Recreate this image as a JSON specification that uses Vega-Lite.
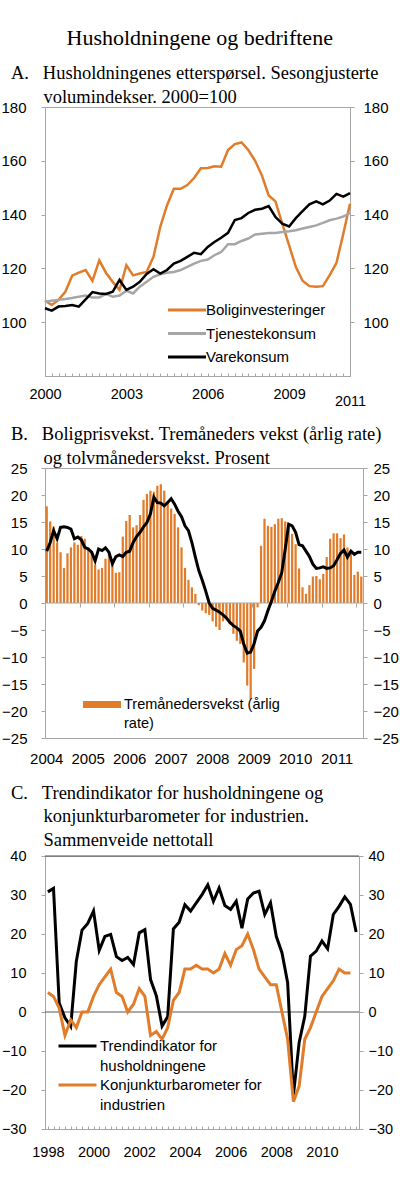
{
  "$schema": "https://vega.github.io/schema/vega-lite/v6.json",
  "padding": {"left": 0, "top": 26, "right": 0, "bottom": 20},
  "background": "white",
  "title": {"text": "Husholdningene og bedriftene", "font": "Liberation Serif", "fontSize": 22, "fontWeight": "normal", "color": "black", "anchor": "middle", "offset": 14},
  "columns": 1,
  "spacing": 16,
  "resolve": {"scale": {"color": "independent"}, "legend": {"color": "independent"}},
  "datasets": {
    "a": [
      {"d":"2000-01-01","s":"Boliginvesteringer","v":108},{"d":"2000-04-01","s":"Boliginvesteringer","v":106.4},{"d":"2000-07-01","s":"Boliginvesteringer","v":108.3},{"d":"2000-10-01","s":"Boliginvesteringer","v":111.3},
      {"d":"2001-01-01","s":"Boliginvesteringer","v":117.3},{"d":"2001-04-01","s":"Boliginvesteringer","v":118.4},{"d":"2001-07-01","s":"Boliginvesteringer","v":119.4},{"d":"2001-10-01","s":"Boliginvesteringer","v":115.4},
      {"d":"2002-01-01","s":"Boliginvesteringer","v":123},{"d":"2002-04-01","s":"Boliginvesteringer","v":118.4},{"d":"2002-07-01","s":"Boliginvesteringer","v":115},{"d":"2002-10-01","s":"Boliginvesteringer","v":112},
      {"d":"2003-01-01","s":"Boliginvesteringer","v":121.2},{"d":"2003-04-01","s":"Boliginvesteringer","v":117.4},{"d":"2003-07-01","s":"Boliginvesteringer","v":118.1},{"d":"2003-10-01","s":"Boliginvesteringer","v":118.7},
      {"d":"2004-01-01","s":"Boliginvesteringer","v":124.3},{"d":"2004-04-01","s":"Boliginvesteringer","v":135.4},{"d":"2004-07-01","s":"Boliginvesteringer","v":143.4},{"d":"2004-10-01","s":"Boliginvesteringer","v":149.6},
      {"d":"2005-01-01","s":"Boliginvesteringer","v":149.6},{"d":"2005-04-01","s":"Boliginvesteringer","v":151},{"d":"2005-07-01","s":"Boliginvesteringer","v":153.6},{"d":"2005-10-01","s":"Boliginvesteringer","v":157.2},
      {"d":"2006-01-01","s":"Boliginvesteringer","v":157.3},{"d":"2006-04-01","s":"Boliginvesteringer","v":158},{"d":"2006-07-01","s":"Boliginvesteringer","v":157.8},{"d":"2006-10-01","s":"Boliginvesteringer","v":164},
      {"d":"2007-01-01","s":"Boliginvesteringer","v":166.2},{"d":"2007-04-01","s":"Boliginvesteringer","v":166.8},{"d":"2007-07-01","s":"Boliginvesteringer","v":164},{"d":"2007-10-01","s":"Boliginvesteringer","v":160},
      {"d":"2008-01-01","s":"Boliginvesteringer","v":154.5},{"d":"2008-04-01","s":"Boliginvesteringer","v":147.1},{"d":"2008-07-01","s":"Boliginvesteringer","v":144.9},{"d":"2008-10-01","s":"Boliginvesteringer","v":136.6},
      {"d":"2009-01-01","s":"Boliginvesteringer","v":128.6},{"d":"2009-04-01","s":"Boliginvesteringer","v":120.6},{"d":"2009-07-01","s":"Boliginvesteringer","v":115.4},{"d":"2009-10-01","s":"Boliginvesteringer","v":113.4},
      {"d":"2010-01-01","s":"Boliginvesteringer","v":113.2},{"d":"2010-04-01","s":"Boliginvesteringer","v":113.4},{"d":"2010-07-01","s":"Boliginvesteringer","v":117.5},{"d":"2010-10-01","s":"Boliginvesteringer","v":122.1},
      {"d":"2011-01-01","s":"Boliginvesteringer","v":132.9},{"d":"2011-04-01","s":"Boliginvesteringer","v":144},
      {"d":"2000-01-01","s":"Tjenestekonsum","v":107.6},{"d":"2000-04-01","s":"Tjenestekonsum","v":108},{"d":"2000-07-01","s":"Tjenestekonsum","v":108.3},{"d":"2000-10-01","s":"Tjenestekonsum","v":108.6},
      {"d":"2001-01-01","s":"Tjenestekonsum","v":109},{"d":"2001-04-01","s":"Tjenestekonsum","v":109.5},{"d":"2001-07-01","s":"Tjenestekonsum","v":109.9},{"d":"2001-10-01","s":"Tjenestekonsum","v":109.2},
      {"d":"2002-01-01","s":"Tjenestekonsum","v":109.2},{"d":"2002-04-01","s":"Tjenestekonsum","v":110.5},{"d":"2002-07-01","s":"Tjenestekonsum","v":109.5},{"d":"2002-10-01","s":"Tjenestekonsum","v":109.9},
      {"d":"2003-01-01","s":"Tjenestekonsum","v":111.7},{"d":"2003-04-01","s":"Tjenestekonsum","v":110.7},{"d":"2003-07-01","s":"Tjenestekonsum","v":113.2},{"d":"2003-10-01","s":"Tjenestekonsum","v":115},
      {"d":"2004-01-01","s":"Tjenestekonsum","v":116.9},{"d":"2004-04-01","s":"Tjenestekonsum","v":117.8},{"d":"2004-07-01","s":"Tjenestekonsum","v":118.4},{"d":"2004-10-01","s":"Tjenestekonsum","v":118.7},
      {"d":"2005-01-01","s":"Tjenestekonsum","v":119.4},{"d":"2005-04-01","s":"Tjenestekonsum","v":120.6},{"d":"2005-07-01","s":"Tjenestekonsum","v":121.8},{"d":"2005-10-01","s":"Tjenestekonsum","v":122.8},
      {"d":"2006-01-01","s":"Tjenestekonsum","v":123.3},{"d":"2006-04-01","s":"Tjenestekonsum","v":124.9},{"d":"2006-07-01","s":"Tjenestekonsum","v":126.1},{"d":"2006-10-01","s":"Tjenestekonsum","v":129},
      {"d":"2007-01-01","s":"Tjenestekonsum","v":129},{"d":"2007-04-01","s":"Tjenestekonsum","v":130.2},{"d":"2007-07-01","s":"Tjenestekonsum","v":131.1},{"d":"2007-10-01","s":"Tjenestekonsum","v":132.6},
      {"d":"2008-01-01","s":"Tjenestekonsum","v":132.9},{"d":"2008-04-01","s":"Tjenestekonsum","v":133.2},{"d":"2008-07-01","s":"Tjenestekonsum","v":133.2},{"d":"2008-10-01","s":"Tjenestekonsum","v":133.5},
      {"d":"2009-01-01","s":"Tjenestekonsum","v":133.8},{"d":"2009-04-01","s":"Tjenestekonsum","v":134.2},{"d":"2009-07-01","s":"Tjenestekonsum","v":134.8},{"d":"2009-10-01","s":"Tjenestekonsum","v":135.4},
      {"d":"2010-01-01","s":"Tjenestekonsum","v":136},{"d":"2010-04-01","s":"Tjenestekonsum","v":136.9},{"d":"2010-07-01","s":"Tjenestekonsum","v":137.9},{"d":"2010-10-01","s":"Tjenestekonsum","v":138.5},
      {"d":"2011-01-01","s":"Tjenestekonsum","v":139.3},{"d":"2011-04-01","s":"Tjenestekonsum","v":140.6},
      {"d":"2000-01-01","s":"Varekonsum","v":105.2},{"d":"2000-04-01","s":"Varekonsum","v":104.3},{"d":"2000-07-01","s":"Varekonsum","v":105.8},{"d":"2000-10-01","s":"Varekonsum","v":106},
      {"d":"2001-01-01","s":"Varekonsum","v":106.4},{"d":"2001-04-01","s":"Varekonsum","v":105.8},{"d":"2001-07-01","s":"Varekonsum","v":108.5},{"d":"2001-10-01","s":"Varekonsum","v":111.2},
      {"d":"2002-01-01","s":"Varekonsum","v":110.7},{"d":"2002-04-01","s":"Varekonsum","v":110.5},{"d":"2002-07-01","s":"Varekonsum","v":111.3},{"d":"2002-10-01","s":"Varekonsum","v":115.7},
      {"d":"2003-01-01","s":"Varekonsum","v":112},{"d":"2003-04-01","s":"Varekonsum","v":113.2},{"d":"2003-07-01","s":"Varekonsum","v":115},{"d":"2003-10-01","s":"Varekonsum","v":117.9},
      {"d":"2004-01-01","s":"Varekonsum","v":119.7},{"d":"2004-04-01","s":"Varekonsum","v":118.1},{"d":"2004-07-01","s":"Varekonsum","v":119.4},{"d":"2004-10-01","s":"Varekonsum","v":121.8},
      {"d":"2005-01-01","s":"Varekonsum","v":122.8},{"d":"2005-04-01","s":"Varekonsum","v":124.3},{"d":"2005-07-01","s":"Varekonsum","v":125.8},{"d":"2005-10-01","s":"Varekonsum","v":125.3},
      {"d":"2006-01-01","s":"Varekonsum","v":128},{"d":"2006-04-01","s":"Varekonsum","v":129.8},{"d":"2006-07-01","s":"Varekonsum","v":131.4},{"d":"2006-10-01","s":"Varekonsum","v":133.2},
      {"d":"2007-01-01","s":"Varekonsum","v":138},{"d":"2007-04-01","s":"Varekonsum","v":138.7},{"d":"2007-07-01","s":"Varekonsum","v":140.6},{"d":"2007-10-01","s":"Varekonsum","v":141.8},
      {"d":"2008-01-01","s":"Varekonsum","v":142.2},{"d":"2008-04-01","s":"Varekonsum","v":143.2},{"d":"2008-07-01","s":"Varekonsum","v":139.1},{"d":"2008-10-01","s":"Varekonsum","v":136.6},
      {"d":"2009-01-01","s":"Varekonsum","v":135.6},{"d":"2009-04-01","s":"Varekonsum","v":138.7},{"d":"2009-07-01","s":"Varekonsum","v":141.3},{"d":"2009-10-01","s":"Varekonsum","v":143.8},
      {"d":"2010-01-01","s":"Varekonsum","v":144.9},{"d":"2010-04-01","s":"Varekonsum","v":143.8},{"d":"2010-07-01","s":"Varekonsum","v":145.2},{"d":"2010-10-01","s":"Varekonsum","v":147.7},
      {"d":"2011-01-01","s":"Varekonsum","v":146.7},{"d":"2011-04-01","s":"Varekonsum","v":148}
    ],
    "b": [
      {"m":"2004-01","s":"Tremånedersvekst (årlig rate)","v":17.9},{"m":"2004-02","s":"Tremånedersvekst (årlig rate)","v":15.1},{"m":"2004-03","s":"Tremånedersvekst (årlig rate)","v":14.2},{"m":"2004-04","s":"Tremånedersvekst (årlig rate)","v":11.2},{"m":"2004-05","s":"Tremånedersvekst (årlig rate)","v":9.4},{"m":"2004-06","s":"Tremånedersvekst (årlig rate)","v":6.5},
      {"m":"2004-07","s":"Tremånedersvekst (årlig rate)","v":9.2},{"m":"2004-08","s":"Tremånedersvekst (årlig rate)","v":10.3},{"m":"2004-09","s":"Tremånedersvekst (årlig rate)","v":11.2},{"m":"2004-10","s":"Tremånedersvekst (årlig rate)","v":10.8},{"m":"2004-11","s":"Tremånedersvekst (årlig rate)","v":12.4},{"m":"2004-12","s":"Tremånedersvekst (årlig rate)","v":11.9},
      {"m":"2005-01","s":"Tremånedersvekst (årlig rate)","v":10.3},{"m":"2005-02","s":"Tremånedersvekst (årlig rate)","v":9.4},{"m":"2005-03","s":"Tremånedersvekst (årlig rate)","v":7.1},{"m":"2005-04","s":"Tremånedersvekst (årlig rate)","v":6.2},{"m":"2005-05","s":"Tremånedersvekst (årlig rate)","v":6.5},{"m":"2005-06","s":"Tremånedersvekst (årlig rate)","v":8.2},
      {"m":"2005-07","s":"Tremånedersvekst (årlig rate)","v":9.0},{"m":"2005-08","s":"Tremånedersvekst (årlig rate)","v":7.3},{"m":"2005-09","s":"Tremånedersvekst (årlig rate)","v":5.6},{"m":"2005-10","s":"Tremånedersvekst (årlig rate)","v":5.7},{"m":"2005-11","s":"Tremånedersvekst (årlig rate)","v":12.3},{"m":"2005-12","s":"Tremånedersvekst (årlig rate)","v":15.2},
      {"m":"2006-01","s":"Tremånedersvekst (årlig rate)","v":16.3},{"m":"2006-02","s":"Tremånedersvekst (årlig rate)","v":14.0},{"m":"2006-03","s":"Tremånedersvekst (årlig rate)","v":14.4},{"m":"2006-04","s":"Tremånedersvekst (årlig rate)","v":16.3},{"m":"2006-05","s":"Tremånedersvekst (årlig rate)","v":19.1},{"m":"2006-06","s":"Tremånedersvekst (årlig rate)","v":20.2},
      {"m":"2006-07","s":"Tremånedersvekst (årlig rate)","v":20.8},{"m":"2006-08","s":"Tremånedersvekst (årlig rate)","v":20.6},{"m":"2006-09","s":"Tremånedersvekst (årlig rate)","v":21.7},{"m":"2006-10","s":"Tremånedersvekst (årlig rate)","v":22.0},{"m":"2006-11","s":"Tremånedersvekst (årlig rate)","v":20.8},{"m":"2006-12","s":"Tremånedersvekst (årlig rate)","v":18.8},
      {"m":"2007-01","s":"Tremånedersvekst (årlig rate)","v":17.5},{"m":"2007-02","s":"Tremånedersvekst (årlig rate)","v":16.5},{"m":"2007-03","s":"Tremånedersvekst (årlig rate)","v":14.0},{"m":"2007-04","s":"Tremånedersvekst (årlig rate)","v":10.3},{"m":"2007-05","s":"Tremånedersvekst (årlig rate)","v":6.5},{"m":"2007-06","s":"Tremånedersvekst (årlig rate)","v":4.3},
      {"m":"2007-07","s":"Tremånedersvekst (årlig rate)","v":2.9},{"m":"2007-08","s":"Tremånedersvekst (årlig rate)","v":1.7},{"m":"2007-09","s":"Tremånedersvekst (årlig rate)","v":-0.4},{"m":"2007-10","s":"Tremånedersvekst (årlig rate)","v":-1.4},{"m":"2007-11","s":"Tremånedersvekst (årlig rate)","v":-1.9},{"m":"2007-12","s":"Tremånedersvekst (årlig rate)","v":-2.2},
      {"m":"2008-01","s":"Tremånedersvekst (årlig rate)","v":-3.4},{"m":"2008-02","s":"Tremånedersvekst (årlig rate)","v":-4.4},{"m":"2008-03","s":"Tremånedersvekst (årlig rate)","v":-5.0},{"m":"2008-04","s":"Tremånedersvekst (årlig rate)","v":-3.4},{"m":"2008-05","s":"Tremånedersvekst (årlig rate)","v":-3.0},{"m":"2008-06","s":"Tremånedersvekst (årlig rate)","v":-3.9},
      {"m":"2008-07","s":"Tremånedersvekst (årlig rate)","v":-5.7},{"m":"2008-08","s":"Tremånedersvekst (årlig rate)","v":-7.0},{"m":"2008-09","s":"Tremånedersvekst (årlig rate)","v":-7.6},{"m":"2008-10","s":"Tremånedersvekst (årlig rate)","v":-11.0},{"m":"2008-11","s":"Tremånedersvekst (årlig rate)","v":-15.3},{"m":"2008-12","s":"Tremånedersvekst (årlig rate)","v":-17.8},
      {"m":"2009-01","s":"Tremånedersvekst (årlig rate)","v":-12.2},{"m":"2009-02","s":"Tremånedersvekst (årlig rate)","v":-0.8},{"m":"2009-03","s":"Tremånedersvekst (årlig rate)","v":10.6},{"m":"2009-04","s":"Tremånedersvekst (årlig rate)","v":15.6},{"m":"2009-05","s":"Tremånedersvekst (årlig rate)","v":14.3},{"m":"2009-06","s":"Tremånedersvekst (årlig rate)","v":14.1},
      {"m":"2009-07","s":"Tremånedersvekst (årlig rate)","v":14.6},{"m":"2009-08","s":"Tremånedersvekst (årlig rate)","v":15.6},{"m":"2009-09","s":"Tremånedersvekst (årlig rate)","v":15.7},{"m":"2009-10","s":"Tremånedersvekst (årlig rate)","v":15.1},{"m":"2009-11","s":"Tremånedersvekst (årlig rate)","v":14.6},{"m":"2009-12","s":"Tremånedersvekst (årlig rate)","v":12.8},
      {"m":"2010-01","s":"Tremånedersvekst (årlig rate)","v":10.9},{"m":"2010-02","s":"Tremånedersvekst (årlig rate)","v":6.4},{"m":"2010-03","s":"Tremånedersvekst (årlig rate)","v":2.9},{"m":"2010-04","s":"Tremånedersvekst (årlig rate)","v":1.7},{"m":"2010-05","s":"Tremånedersvekst (årlig rate)","v":3.3},{"m":"2010-06","s":"Tremånedersvekst (årlig rate)","v":4.9},
      {"m":"2010-07","s":"Tremånedersvekst (årlig rate)","v":5.0},{"m":"2010-08","s":"Tremånedersvekst (årlig rate)","v":4.4},{"m":"2010-09","s":"Tremånedersvekst (årlig rate)","v":5.4},{"m":"2010-10","s":"Tremånedersvekst (årlig rate)","v":8.5},{"m":"2010-11","s":"Tremånedersvekst (årlig rate)","v":11.9},{"m":"2010-12","s":"Tremånedersvekst (årlig rate)","v":12.9},
      {"m":"2011-01","s":"Tremånedersvekst (årlig rate)","v":12.9},{"m":"2011-02","s":"Tremånedersvekst (årlig rate)","v":12.0},{"m":"2011-03","s":"Tremånedersvekst (årlig rate)","v":12.7},{"m":"2011-04","s":"Tremånedersvekst (årlig rate)","v":10.3},{"m":"2011-05","s":"Tremånedersvekst (årlig rate)","v":9.1},{"m":"2011-06","s":"Tremånedersvekst (årlig rate)","v":5.2},
      {"m":"2011-07","s":"Tremånedersvekst (årlig rate)","v":5.8},{"m":"2011-08","s":"Tremånedersvekst (årlig rate)","v":4.9},
      {"m":"2004-01","s":"Tolvmånedersvekst","v":9.6},{"m":"2004-02","s":"Tolvmånedersvekst","v":11.2},{"m":"2004-03","s":"Tolvmånedersvekst","v":13.4},{"m":"2004-04","s":"Tolvmånedersvekst","v":11.9},{"m":"2004-05","s":"Tolvmånedersvekst","v":14.0},{"m":"2004-06","s":"Tolvmånedersvekst","v":14.1},
      {"m":"2004-07","s":"Tolvmånedersvekst","v":14.0},{"m":"2004-08","s":"Tolvmånedersvekst","v":13.7},{"m":"2004-09","s":"Tolvmånedersvekst","v":11.9},{"m":"2004-10","s":"Tolvmånedersvekst","v":12.2},{"m":"2004-11","s":"Tolvmånedersvekst","v":11.7},{"m":"2004-12","s":"Tolvmånedersvekst","v":10.3},
      {"m":"2005-01","s":"Tolvmånedersvekst","v":10.0},{"m":"2005-02","s":"Tolvmånedersvekst","v":9.4},{"m":"2005-03","s":"Tolvmånedersvekst","v":7.8},{"m":"2005-04","s":"Tolvmånedersvekst","v":10.0},{"m":"2005-05","s":"Tolvmånedersvekst","v":9.7},{"m":"2005-06","s":"Tolvmånedersvekst","v":10.2},
      {"m":"2005-07","s":"Tolvmånedersvekst","v":9.4},{"m":"2005-08","s":"Tolvmånedersvekst","v":7.3},{"m":"2005-09","s":"Tolvmånedersvekst","v":8.6},{"m":"2005-10","s":"Tolvmånedersvekst","v":8.9},{"m":"2005-11","s":"Tolvmånedersvekst","v":8.6},{"m":"2005-12","s":"Tolvmånedersvekst","v":9.4},
      {"m":"2006-01","s":"Tolvmånedersvekst","v":9.6},{"m":"2006-02","s":"Tolvmånedersvekst","v":11.2},{"m":"2006-03","s":"Tolvmånedersvekst","v":12.3},{"m":"2006-04","s":"Tolvmånedersvekst","v":13.1},{"m":"2006-05","s":"Tolvmånedersvekst","v":14.1},{"m":"2006-06","s":"Tolvmånedersvekst","v":14.9},
      {"m":"2006-07","s":"Tolvmånedersvekst","v":16.5},{"m":"2006-08","s":"Tolvmånedersvekst","v":19.6},{"m":"2006-09","s":"Tolvmånedersvekst","v":18.6},{"m":"2006-10","s":"Tolvmånedersvekst","v":18.5},{"m":"2006-11","s":"Tolvmånedersvekst","v":18.0},{"m":"2006-12","s":"Tolvmånedersvekst","v":18.6},
      {"m":"2007-01","s":"Tolvmånedersvekst","v":19.3},{"m":"2007-02","s":"Tolvmånedersvekst","v":18.3},{"m":"2007-03","s":"Tolvmånedersvekst","v":17.0},{"m":"2007-04","s":"Tolvmånedersvekst","v":16.0},{"m":"2007-05","s":"Tolvmånedersvekst","v":14.3},{"m":"2007-06","s":"Tolvmånedersvekst","v":13.4},
      {"m":"2007-07","s":"Tolvmånedersvekst","v":11.2},{"m":"2007-08","s":"Tolvmånedersvekst","v":8.5},{"m":"2007-09","s":"Tolvmånedersvekst","v":6.0},{"m":"2007-10","s":"Tolvmånedersvekst","v":4.2},{"m":"2007-11","s":"Tolvmånedersvekst","v":2.2},{"m":"2007-12","s":"Tolvmånedersvekst","v":0.0},
      {"m":"2008-01","s":"Tolvmånedersvekst","v":-1.0},{"m":"2008-02","s":"Tolvmånedersvekst","v":-1.3},{"m":"2008-03","s":"Tolvmånedersvekst","v":-1.7},{"m":"2008-04","s":"Tolvmånedersvekst","v":-2.2},{"m":"2008-05","s":"Tolvmånedersvekst","v":-2.8},{"m":"2008-06","s":"Tolvmånedersvekst","v":-3.6},
      {"m":"2008-07","s":"Tolvmånedersvekst","v":-4.2},{"m":"2008-08","s":"Tolvmånedersvekst","v":-4.6},{"m":"2008-09","s":"Tolvmånedersvekst","v":-5.2},{"m":"2008-10","s":"Tolvmånedersvekst","v":-7.6},{"m":"2008-11","s":"Tolvmånedersvekst","v":-9.3},{"m":"2008-12","s":"Tolvmånedersvekst","v":-9.1},
      {"m":"2009-01","s":"Tolvmånedersvekst","v":-7.5},{"m":"2009-02","s":"Tolvmånedersvekst","v":-5.2},{"m":"2009-03","s":"Tolvmånedersvekst","v":-4.5},{"m":"2009-04","s":"Tolvmånedersvekst","v":-3.3},{"m":"2009-05","s":"Tolvmånedersvekst","v":-1.4},{"m":"2009-06","s":"Tolvmånedersvekst","v":0.3},
      {"m":"2009-07","s":"Tolvmånedersvekst","v":2.2},{"m":"2009-08","s":"Tolvmånedersvekst","v":3.8},{"m":"2009-09","s":"Tolvmånedersvekst","v":5.6},{"m":"2009-10","s":"Tolvmånedersvekst","v":10.0},{"m":"2009-11","s":"Tolvmånedersvekst","v":14.6},{"m":"2009-12","s":"Tolvmånedersvekst","v":14.3},
      {"m":"2010-01","s":"Tolvmånedersvekst","v":13.1},{"m":"2010-02","s":"Tolvmånedersvekst","v":10.8},{"m":"2010-03","s":"Tolvmånedersvekst","v":10.6},{"m":"2010-04","s":"Tolvmånedersvekst","v":9.6},{"m":"2010-05","s":"Tolvmånedersvekst","v":8.6},{"m":"2010-06","s":"Tolvmånedersvekst","v":7.2},
      {"m":"2010-07","s":"Tolvmånedersvekst","v":6.4},{"m":"2010-08","s":"Tolvmånedersvekst","v":6.5},{"m":"2010-09","s":"Tolvmånedersvekst","v":6.7},{"m":"2010-10","s":"Tolvmånedersvekst","v":6.4},{"m":"2010-11","s":"Tolvmånedersvekst","v":6.5},{"m":"2010-12","s":"Tolvmånedersvekst","v":6.9},
      {"m":"2011-01","s":"Tolvmånedersvekst","v":8.0},{"m":"2011-02","s":"Tolvmånedersvekst","v":9.2},{"m":"2011-03","s":"Tolvmånedersvekst","v":9.8},{"m":"2011-04","s":"Tolvmånedersvekst","v":8.5},{"m":"2011-05","s":"Tolvmånedersvekst","v":9.6},{"m":"2011-06","s":"Tolvmånedersvekst","v":9.0},
      {"m":"2011-07","s":"Tolvmånedersvekst","v":9.4},{"m":"2011-08","s":"Tolvmånedersvekst","v":9.4}
    ],
    "c": [
      {"d":"1998-01-01","s":"Trendindikator for husholdningene","v":30.8},{"d":"1998-04-01","s":"Trendindikator for husholdningene","v":31.7},{"d":"1998-07-01","s":"Trendindikator for husholdningene","v":2.3},{"d":"1998-10-01","s":"Trendindikator for husholdningene","v":-1.5},
      {"d":"1999-01-01","s":"Trendindikator for husholdningene","v":-3.7},{"d":"1999-04-01","s":"Trendindikator for husholdningene","v":13},{"d":"1999-07-01","s":"Trendindikator for husholdningene","v":21},{"d":"1999-10-01","s":"Trendindikator for husholdningene","v":22.7},
      {"d":"2000-01-01","s":"Trendindikator for husholdningene","v":25.9},{"d":"2000-04-01","s":"Trendindikator for husholdningene","v":15.8},{"d":"2000-07-01","s":"Trendindikator for husholdningene","v":19.4},{"d":"2000-10-01","s":"Trendindikator for husholdningene","v":19.9},
      {"d":"2001-01-01","s":"Trendindikator for husholdningene","v":14.2},{"d":"2001-04-01","s":"Trendindikator for husholdningene","v":13.2},{"d":"2001-07-01","s":"Trendindikator for husholdningene","v":14},{"d":"2001-10-01","s":"Trendindikator for husholdningene","v":12.2},
      {"d":"2002-01-01","s":"Trendindikator for husholdningene","v":20.3},{"d":"2002-04-01","s":"Trendindikator for husholdningene","v":21.1},{"d":"2002-07-01","s":"Trendindikator for husholdningene","v":8.3},{"d":"2002-10-01","s":"Trendindikator for husholdningene","v":4.2},
      {"d":"2003-01-01","s":"Trendindikator for husholdningene","v":-3.6},{"d":"2003-04-01","s":"Trendindikator for husholdningene","v":-1.2},{"d":"2003-07-01","s":"Trendindikator for husholdningene","v":21.3},{"d":"2003-10-01","s":"Trendindikator for husholdningene","v":23},
      {"d":"2004-01-01","s":"Trendindikator for husholdningene","v":27.5},{"d":"2004-04-01","s":"Trendindikator for husholdningene","v":25.9},{"d":"2004-07-01","s":"Trendindikator for husholdningene","v":28},{"d":"2004-10-01","s":"Trendindikator for husholdningene","v":30.1},
      {"d":"2005-01-01","s":"Trendindikator for husholdningene","v":32.6},{"d":"2005-04-01","s":"Trendindikator for husholdningene","v":28.4},{"d":"2005-07-01","s":"Trendindikator for husholdningene","v":31.8},{"d":"2005-10-01","s":"Trendindikator for husholdningene","v":27.3},
      {"d":"2006-01-01","s":"Trendindikator for husholdningene","v":26.3},{"d":"2006-04-01","s":"Trendindikator for husholdningene","v":28.4},{"d":"2006-07-01","s":"Trendindikator for husholdningene","v":21.5},{"d":"2006-10-01","s":"Trendindikator for husholdningene","v":29},
      {"d":"2007-01-01","s":"Trendindikator for husholdningene","v":30.5},{"d":"2007-04-01","s":"Trendindikator for husholdningene","v":31},{"d":"2007-07-01","s":"Trendindikator for husholdningene","v":25},{"d":"2007-10-01","s":"Trendindikator for husholdningene","v":28},
      {"d":"2008-01-01","s":"Trendindikator for husholdningene","v":19.4},{"d":"2008-04-01","s":"Trendindikator for husholdningene","v":15.2},{"d":"2008-07-01","s":"Trendindikator for husholdningene","v":7.5},{"d":"2008-10-01","s":"Trendindikator for husholdningene","v":-21.4},
      {"d":"2009-01-01","s":"Trendindikator for husholdningene","v":-7.8},{"d":"2009-04-01","s":"Trendindikator for husholdningene","v":-1.1},{"d":"2009-07-01","s":"Trendindikator for husholdningene","v":14.3},{"d":"2009-10-01","s":"Trendindikator for husholdningene","v":15.6},
      {"d":"2010-01-01","s":"Trendindikator for husholdningene","v":18.2},{"d":"2010-04-01","s":"Trendindikator for husholdningene","v":16.2},{"d":"2010-07-01","s":"Trendindikator for husholdningene","v":25},{"d":"2010-10-01","s":"Trendindikator for husholdningene","v":27.1},
      {"d":"2011-01-01","s":"Trendindikator for husholdningene","v":29.5},{"d":"2011-04-01","s":"Trendindikator for husholdningene","v":27.6},{"d":"2011-07-01","s":"Trendindikator for husholdningene","v":20.5},
      {"d":"1998-01-01","s":"Konjunkturbarometer for industrien","v":5},{"d":"1998-04-01","s":"Konjunkturbarometer for industrien","v":4},{"d":"1998-07-01","s":"Konjunkturbarometer for industrien","v":1},{"d":"1998-10-01","s":"Konjunkturbarometer for industrien","v":-6},
      {"d":"1999-01-01","s":"Konjunkturbarometer for industrien","v":-2},{"d":"1999-04-01","s":"Konjunkturbarometer for industrien","v":-4},{"d":"1999-07-01","s":"Konjunkturbarometer for industrien","v":0},{"d":"1999-10-01","s":"Konjunkturbarometer for industrien","v":0},
      {"d":"2000-01-01","s":"Konjunkturbarometer for industrien","v":4},{"d":"2000-04-01","s":"Konjunkturbarometer for industrien","v":7},{"d":"2000-07-01","s":"Konjunkturbarometer for industrien","v":9},{"d":"2000-10-01","s":"Konjunkturbarometer for industrien","v":11},
      {"d":"2001-01-01","s":"Konjunkturbarometer for industrien","v":5},{"d":"2001-04-01","s":"Konjunkturbarometer for industrien","v":4},{"d":"2001-07-01","s":"Konjunkturbarometer for industrien","v":0},{"d":"2001-10-01","s":"Konjunkturbarometer for industrien","v":2},
      {"d":"2002-01-01","s":"Konjunkturbarometer for industrien","v":6},{"d":"2002-04-01","s":"Konjunkturbarometer for industrien","v":4},{"d":"2002-07-01","s":"Konjunkturbarometer for industrien","v":-6},{"d":"2002-10-01","s":"Konjunkturbarometer for industrien","v":-5},
      {"d":"2003-01-01","s":"Konjunkturbarometer for industrien","v":-7},{"d":"2003-04-01","s":"Konjunkturbarometer for industrien","v":-4},{"d":"2003-07-01","s":"Konjunkturbarometer for industrien","v":3},{"d":"2003-10-01","s":"Konjunkturbarometer for industrien","v":5},
      {"d":"2004-01-01","s":"Konjunkturbarometer for industrien","v":11},{"d":"2004-04-01","s":"Konjunkturbarometer for industrien","v":11},{"d":"2004-07-01","s":"Konjunkturbarometer for industrien","v":12},{"d":"2004-10-01","s":"Konjunkturbarometer for industrien","v":11},
      {"d":"2005-01-01","s":"Konjunkturbarometer for industrien","v":11},{"d":"2005-04-01","s":"Konjunkturbarometer for industrien","v":10},{"d":"2005-07-01","s":"Konjunkturbarometer for industrien","v":11},{"d":"2005-10-01","s":"Konjunkturbarometer for industrien","v":15},
      {"d":"2006-01-01","s":"Konjunkturbarometer for industrien","v":12},{"d":"2006-04-01","s":"Konjunkturbarometer for industrien","v":16},{"d":"2006-07-01","s":"Konjunkturbarometer for industrien","v":17},{"d":"2006-10-01","s":"Konjunkturbarometer for industrien","v":20},
      {"d":"2007-01-01","s":"Konjunkturbarometer for industrien","v":16},{"d":"2007-04-01","s":"Konjunkturbarometer for industrien","v":11},{"d":"2007-07-01","s":"Konjunkturbarometer for industrien","v":9},{"d":"2007-10-01","s":"Konjunkturbarometer for industrien","v":7},
      {"d":"2008-01-01","s":"Konjunkturbarometer for industrien","v":7},{"d":"2008-04-01","s":"Konjunkturbarometer for industrien","v":0},{"d":"2008-07-01","s":"Konjunkturbarometer for industrien","v":-7},{"d":"2008-10-01","s":"Konjunkturbarometer for industrien","v":-23},
      {"d":"2009-01-01","s":"Konjunkturbarometer for industrien","v":-19},{"d":"2009-04-01","s":"Konjunkturbarometer for industrien","v":-7},{"d":"2009-07-01","s":"Konjunkturbarometer for industrien","v":-4},{"d":"2009-10-01","s":"Konjunkturbarometer for industrien","v":0},
      {"d":"2010-01-01","s":"Konjunkturbarometer for industrien","v":4},{"d":"2010-04-01","s":"Konjunkturbarometer for industrien","v":6},{"d":"2010-07-01","s":"Konjunkturbarometer for industrien","v":8},{"d":"2010-10-01","s":"Konjunkturbarometer for industrien","v":11},
      {"d":"2011-01-01","s":"Konjunkturbarometer for industrien","v":10},{"d":"2011-04-01","s":"Konjunkturbarometer for industrien","v":10}
    ]
  },
  "concat": [
    {
      "width": 305,
      "height": 269,
      "title": {"text": ["A.\u00a0\u00a0\u00a0Husholdningenes etterspørsel. Sesongjusterte", "\u200b\u00a0\u00a0\u00a0\u00a0\u00a0\u00a0\u00a0volumindekser. 2000=100"], "anchor": "start", "frame": "group", "dx": -34, "offset": -6, "font": "Liberation Serif", "fontSize": 18.5, "fontWeight": "normal", "lineHeight": 23.5, "color": "black"},
      "data": {"name": "a"},
      "layer": [
        {
          "mark": {"type": "line", "strokeWidth": 2.5},
          "encoding": {
            "x": {"field": "d", "type": "temporal", "title": null,
              "scale": {"type": "utc", "domain": [{"year": 2000, "month": 1, "date": 1, "utc": true}, {"year": 2011, "month": 4, "date": 1, "utc": true}]},
              "axis": {"orient": "bottom", "tickCount": {"interval": "month", "step": 3}, "tickSize": -3, "labelOverlap": false, "labelFontSize": 14.5,
                "labelPadding": {"condition": {"test": "utcyear(datum.value) == 2011", "value": 21}, "value": 14.5},
                "labelExpr": "(utcmonth(datum.value) == 0 && (utcyear(datum.value) - 2000) % 3 == 0) ? utcFormat(datum.value, '%Y') : ((utcyear(datum.value) == 2011 && utcmonth(datum.value) == 3) ? '2011' : '')"}},
            "y": {"field": "v", "type": "quantitative", "title": null,
              "scale": {"domain": [80, 180], "nice": false, "zero": false},
              "axis": {"orient": "left", "values": [100, 120, 140, 160, 180], "tickSize": 4, "labelPadding": 15}},
            "color": {"field": "s", "type": "nominal",
              "scale": {"domain": ["Boliginvesteringer", "Tjenestekonsum", "Varekonsum"], "range": ["#E07C2A", "#A6A6A6", "#000000"]},
              "legend": {"title": null, "orient": "none", "direction": "vertical", "legendX": 131, "legendY": 192, "symbolType": "M-2,0H2", "symbolSize": 361, "symbolStrokeWidth": 3, "labelOffset": 8, "rowPadding": 4.5, "labelFontSize": 15, "padding": 0}}
          }
        },
        {
          "mark": {"type": "line", "opacity": 0},
          "encoding": {
            "x": {"field": "d", "type": "temporal", "title": null, "scale": {"type": "utc"}},
            "y": {"field": "v", "type": "quantitative", "title": null,
              "scale": {"domain": [80, 180], "nice": false, "zero": false},
              "axis": {"orient": "right", "values": [100, 120, 140, 160, 180], "tickSize": 4, "labelPadding": 9}},
            "detail": {"field": "s"}
          }
        }
      ],
      "resolve": {"axis": {"y": "independent"}}
    },
    {
      "width": 318,
      "height": 270,
      "title": {"text": ["B.\u00a0\u00a0\u00a0Boligprisvekst. Tremåneders vekst (årlig rate)", "\u200b\u00a0\u00a0\u00a0\u00a0\u00a0\u00a0\u00a0og tolvmånedersvekst. Prosent"], "anchor": "start", "frame": "group", "dx": -34, "offset": -6, "font": "Liberation Serif", "fontSize": 18.5, "fontWeight": "normal", "lineHeight": 23.5, "color": "black"},
      "data": {"name": "b"},
      "layer": [
        {
          "transform": [{"filter": "datum.s == 'Tremånedersvekst (årlig rate)'"}],
          "mark": {"type": "bar"},
          "encoding": {
            "x": {"field": "m", "type": "ordinal", "title": null,
              "scale": {"paddingInner": 0.35, "paddingOuter": 0.175},
              "axis": {"orient": "bottom", "ticks": false, "domain": false, "labelAngle": 0, "labelOverlap": false, "labelPadding": 13.5,
                "labelExpr": "substring(datum.label, 5, 7) == '01' ? substring(datum.label, 0, 4) : ''"}},
            "y": {"field": "v", "type": "quantitative", "title": null,
              "scale": {"domain": [-25, 25], "nice": false},
              "axis": {"orient": "left", "values": [-25, -20, -15, -10, -5, 0, 5, 10, 15, 20, 25], "tickSize": 4, "labelPadding": 14}},
            "color": {"field": "s", "type": "nominal",
              "scale": {"range": ["#E07C2A"]},
              "legend": {"title": null, "orient": "none", "direction": "vertical", "legendX": 47.5, "legendY": 227, "symbolType": "M-2,-0.36H2V0.36H-2Z", "symbolSize": 361, "symbolStrokeWidth": 0, "labelOffset": 12.5, "labelFontSize": 14.5, "labelBaseline": "middle", "labelLimit": 400, "padding": 0,
                "labelExpr": "['Tremånedersvekst (årlig', 'rate)']"}}
          }
        },
        {
          "data": {"values": [{}]},
          "mark": {"type": "rule", "color": "#A6A6A6", "strokeWidth": 1},
          "encoding": {"y": {"datum": 0, "axis": null}}
        },
        {
          "transform": [{"filter": "datum.s == 'Tolvmånedersvekst'"}],
          "mark": {"type": "line", "color": "#000000", "strokeWidth": 3},
          "encoding": {
            "x": {"field": "m", "type": "ordinal", "bandPosition": 0.5, "title": null,
              "axis": {"orient": "bottom", "offset": -135, "labels": false, "domain": false, "ticks": true, "tickSize": 4, "bandPosition": 0,
                "values": ["2004-01", "2004-11", "2005-09", "2006-07", "2007-05", "2008-03", "2009-01", "2009-11", "2010-09", "2011-07"]}},
            "y": {"field": "v", "type": "quantitative", "title": null,
              "scale": {"domain": [-25, 25], "nice": false},
              "axis": {"orient": "right", "values": [-25, -20, -15, -10, -5, 0, 5, 10, 15, 20, 25], "tickSize": 4, "labelPadding": 6}}
          }
        }
      ],
      "resolve": {"axis": {"x": "independent", "y": "independent"}}
    },
    {
      "width": 314,
      "height": 273,
      "title": {"text": ["C.\u00a0\u00a0\u00a0Trendindikator for husholdningene og", "\u200b\u00a0\u00a0\u00a0\u00a0\u00a0\u00a0\u00a0konjunkturbarometer for industrien.", "\u200b\u00a0\u00a0\u00a0\u00a0\u00a0\u00a0\u00a0Sammenveide nettotall"], "anchor": "start", "frame": "group", "dx": -34, "offset": -1, "font": "Liberation Serif", "fontSize": 18.5, "fontWeight": "normal", "lineHeight": 23.5, "color": "black"},
      "data": {"name": "c"},
      "layer": [
        {
          "data": {"values": [{}]},
          "mark": {"type": "rule", "color": "#555555", "strokeWidth": 1},
          "encoding": {"y": {"datum": 0, "axis": null}}
        },
        {
          "data": {"values": [{}]},
          "mark": {"type": "rule", "color": "#555555", "strokeWidth": 1},
          "encoding": {"y": {"datum": 40, "axis": null}}
        },
        {
          "mark": {"type": "line", "strokeWidth": 3},
          "encoding": {
            "x": {"field": "d", "type": "temporal", "title": null,
              "scale": {"type": "utc", "domain": [{"year": 1997, "month": 11, "date": 16, "utc": true}, {"year": 2011, "month": 8, "date": 16, "utc": true}]},
              "axis": {"orient": "bottom", "tickCount": {"interval": "month", "step": 3}, "tickSize": -3, "labelOverlap": false, "labelPadding": 19, "labelFontSize": 14.5,
                "labelExpr": "(utcmonth(datum.value) == 0 && utcyear(datum.value) % 2 == 0) ? utcFormat(datum.value, '%Y') : ''"}},
            "y": {"field": "v", "type": "quantitative", "title": null,
              "scale": {"domain": [-30, 40], "nice": false},
              "axis": {"orient": "left", "values": [-30, -20, -10, 0, 10, 20, 30, 40], "tickSize": 4, "labelPadding": 15, "labelFontSize": 14.5}},
            "color": {"field": "s", "type": "nominal",
              "scale": {"domain": ["Trendindikator for husholdningene", "Konjunkturbarometer for industrien"], "range": ["#000000", "#E07C2A"]},
              "legend": {"title": null, "orient": "none", "direction": "vertical", "legendX": 21.5, "legendY": 179, "symbolType": "M-2,0H2", "symbolSize": 361, "symbolStrokeWidth": 3, "labelOffset": 11.5, "labelFontSize": 15, "labelBaseline": "middle", "labelLimit": 400, "rowPadding": -5, "padding": 0,
                "labelExpr": "datum.label == 'Trendindikator for husholdningene' ? ['Trendindikator for', 'husholdningene'] : ['Konjunkturbarometer for', 'industrien']"}}
          }
        },
        {
          "mark": {"type": "line", "opacity": 0},
          "encoding": {
            "x": {"field": "d", "type": "temporal", "title": null, "scale": {"type": "utc"}},
            "y": {"field": "v", "type": "quantitative", "title": null,
              "scale": {"domain": [-30, 40], "nice": false},
              "axis": {"orient": "right", "values": [-30, -20, -10, 0, 10, 20, 30, 40], "tickSize": 4, "labelPadding": 5, "labelFontSize": 14.5}},
            "detail": {"field": "s"}
          }
        }
      ],
      "resolve": {"axis": {"y": "independent"}}
    }
  ],
  "config": {
    "view": {"stroke": "#A6A6A6"},
    "axis": {"labelFont": "Liberation Sans", "labelFontSize": 15, "labelColor": "#000000", "domainColor": "#A6A6A6", "tickColor": "#A6A6A6", "grid": false, "labelFlush": false},
    "legend": {"labelFont": "Liberation Sans", "labelFontSize": 15, "labelColor": "#000000"},
    "style": {"guide-label": {"lineHeight": 19.5}}
  }
}
